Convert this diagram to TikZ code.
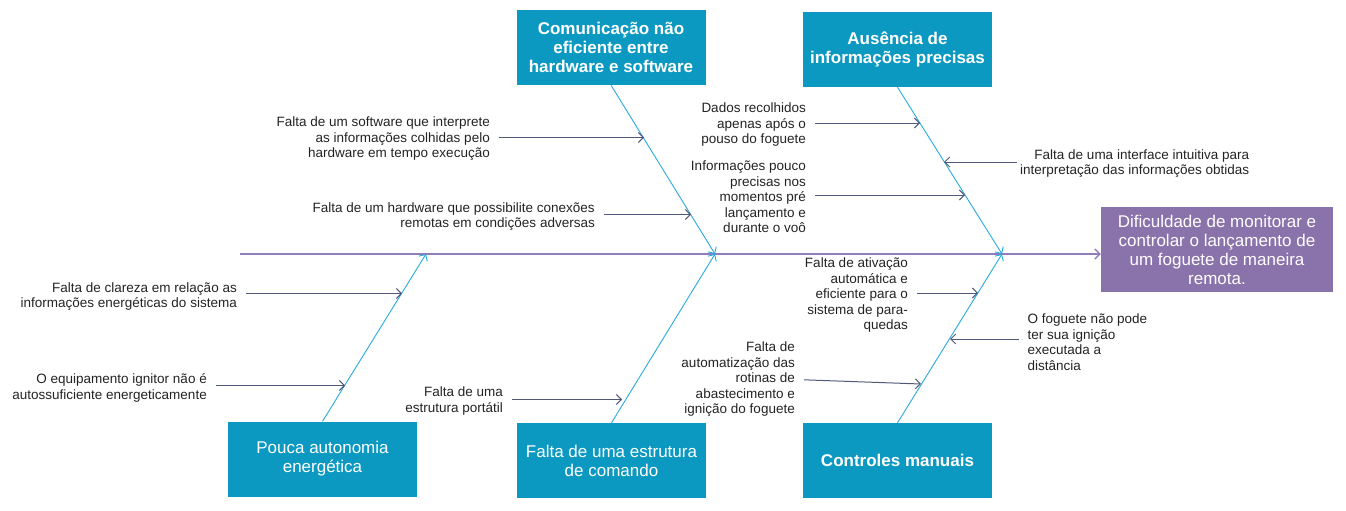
\documentclass[tikz,border=0pt]{standalone}
\usepackage{fontspec}
\setmainfont{Liberation Sans}
\usetikzlibrary{arrows.meta}
\definecolor{catfill}{RGB}{12,153,193}
\definecolor{effectfill}{RGB}{138,114,171}
\definecolor{boneline}{RGB}{41,170,222}
\definecolor{subline}{RGB}{80,90,120}
\definecolor{spineline}{RGB}{145,125,188}
\definecolor{causetext}{RGB}{35,35,35}

\begin{document}
\begin{tikzpicture}[x=1pt,y=-1pt,
  cat/.style={fill=catfill,text=white,minimum width=189pt,minimum height=75pt,inner sep=0pt,align=center,font=\fontsize{17}{19}\selectfont},
  catb/.style={cat,font=\fontsize{17}{19}\selectfont\bfseries},
  effect/.style={fill=effectfill,text=white,minimum width=232pt,minimum height=85pt,inner sep=0pt,align=center,font=\fontsize{17}{19}\selectfont},
  cause/.style={text=causetext,inner sep=0pt,font=\fontsize{13.5}{15.5}\selectfont},
  bone/.style={draw=boneline,line width=0.9pt,-{Straight Barb[length=5pt,width=10pt]}},
  sub/.style={draw=subline,line width=1pt,shorten <=9pt,-{Straight Barb[length=5pt,width=10pt]}},
  spine/.style={draw=spineline,line width=1.3pt,-{Straight Barb[length=5pt,width=10pt]}}]
\useasboundingbox (0,0) rectangle (1346,511);

% head and categories
\node[effect] (ef) at (1217,249.5) {Dificuldade de monitorar e\\controlar o lançamento de\\um foguete de maneira\\remota.};
\node[catb] (c1) at (611,47.5) {Comunicação não\\eficiente entre\\hardware e software};
\node[catb] (c2) at (897.5,49.5) {Ausência de\\informações precisas};
\node[cat] (c3) at (322.5,459) {Pouca autonomia\\energética};
\node[cat] (c4) at (611.5,460.5) {Falta de uma estrutura\\de comando};
\node[catb] (c5) at (897.5,460.5) {Controles manuais};

% spine and bones
\coordinate (tail) at (240,254);
\coordinate (j1) at (426,254);
\coordinate (j2) at (715,254);
\coordinate (j3) at (1002,254);
\draw[spine] (tail) -- (ef.west |- tail);
\draw[bone] (c1.south) -- (j2);
\draw[bone] (c2.south) -- (j3);
\draw[bone] (c3.north) -- (j1);
\draw[bone] (c4.north) -- (j2);
\draw[bone] (c5.north) -- (j3);

% points on the bones
\coordinate (p11) at (644,137.5);
\coordinate (p12) at (691,214.5);
\coordinate (p21) at (920,123);
\coordinate (p22) at (965,195);
\coordinate (p23) at (944,162);
\coordinate (p31) at (402,293.5);
\coordinate (p32) at (345,385.5);
\coordinate (p41) at (622,399.5);
\coordinate (p51) at (978,293);
\coordinate (p52) at (921,384);
\coordinate (p53) at (950,339);

% causes
\node[cause,anchor=east,align=right] (t11) at (490,139) {Falta de um software que interprete\\as informações colhidas pelo\\hardware em tempo execução};
\node[cause,anchor=east,align=right] (t12) at (595,216.5) {Falta de um hardware que possibilite conexões\\remotas em condições adversas};
\node[cause,anchor=east,align=right] (t21) at (806,125) {Dados recolhidos\\apenas após o\\pouso do foguete};
\node[cause,anchor=east,align=right] (t22) at (806,197) {Informações pouco\\precisas nos\\momentos pré\\lançamento e\\durante o voô};
\node[cause,anchor=west,align=right] (t23) at (1020,163.5) {Falta de uma interface intuitiva para\\interpretação das informações obtidas};
\node[cause,anchor=east,align=right] (t31) at (237,296.5) {Falta de clareza em relação as\\informações energéticas do sistema};
\node[cause,anchor=east,align=right] (t32) at (207,388) {O equipamento ignitor não é\\autossuficiente energeticamente};
\node[cause,anchor=east,align=right] (t41) at (503,401) {Falta de uma\\estrutura portátil};
\node[cause,anchor=east,align=right] (t51) at (908,295.5) {Falta de ativação\\automática e\\eficiente para o\\sistema de para-\\quedas};
\node[cause,anchor=east,align=right] (t52) at (795,379.5) {Falta de\\automatização das\\rotinas de\\abastecimento e\\ignição do foguete};
\node[cause,anchor=west,align=left] (t53) at (1027.5,342) {O foguete não pode\\ter sua ignição\\executada a\\distância};

\draw[sub] (t11.east |- p11) -- (p11);
\draw[sub] (t12.east |- p12) -- (p12);
\draw[sub] (t21.east |- p21) -- (p21);
\draw[sub] (t22.east |- p22) -- (p22);
\draw[sub,shorten <=3pt] (t23.west |- p23) -- (p23);
\draw[sub] (t31.east |- p31) -- (p31);
\draw[sub] (t32.east |- p32) -- (p32);
\draw[sub] (t41.east |- p41) -- (p41);
\draw[sub] (t51.east |- p51) -- (p51);
\draw[sub] (t52.east) -- (p52);
\draw[sub] (t53.west |- p53) -- (p53);
\end{tikzpicture}
\end{document}
